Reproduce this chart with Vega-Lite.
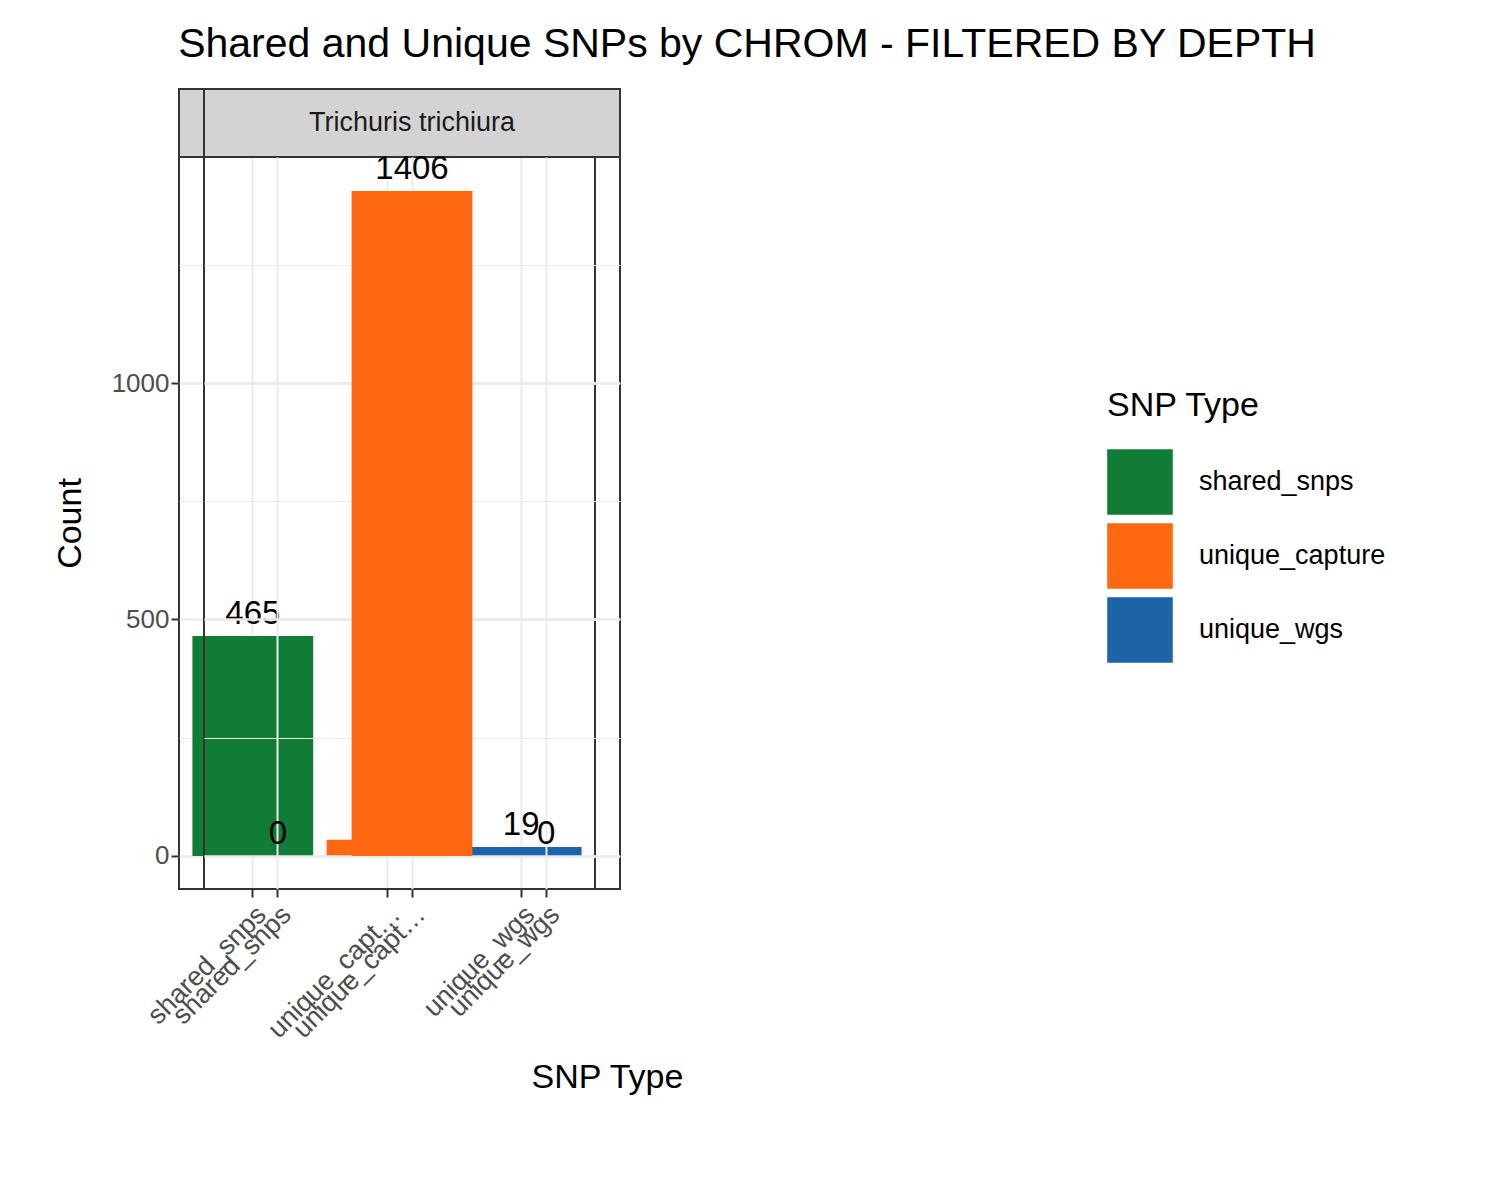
{
  "$schema": "https://vega.github.io/schema/vega-lite/v6.json",
  "title": {"text": "Shared and Unique SNPs by CHROM - FILTERED BY DEPTH", "anchor": "start", "dx": 126, "fontSize": 41, "font": "Liberation Sans", "fontWeight": "normal", "color": "black", "offset": 22},
  "padding": {"left": 52, "top": 24, "right": 0, "bottom": 10},
  "bounds": "flush",
  "datasets": {
    "snps": [
      {"species": "Ascaris lumbricoides", "type": "shared_snps", "count": 465},
      {"species": "Ascaris lumbricoides", "type": "unique_capture", "count": 34},
      {"species": "Ascaris lumbricoides", "type": "unique_wgs", "count": 19},
      {"species": "Trichuris trichiura", "type": "shared_snps", "count": 0},
      {"species": "Trichuris trichiura", "type": "unique_capture", "count": 1406},
      {"species": "Trichuris trichiura", "type": "unique_wgs", "count": 0}
    ]
  },
  "hconcat": [
    {
      "spacing": 0,
      "bounds": "flush",
      "vconcat": [
        {
          "width": 416, "height": 68,
          "data": {"values": [{"label": "Ascaris lumbricoides"}]},
          "view": {"fill": "#d3d3d3", "stroke": "#333333", "strokeWidth": 2},
          "mark": {"type": "text", "fontSize": 27, "font": "Liberation Sans", "color": "#1a1a1a"},
          "encoding": {"text": {"field": "label"}}
        },
        {
          "width": 416, "height": 732,
          "data": {"name": "snps"},
          "transform": [{"filter": "datum.species == 'Ascaris lumbricoides'"}],
          "encoding": {
            "x": {"field": "type", "type": "nominal", "scale": {"paddingInner": 0.1, "paddingOuter": 0.1},
              "axis": {"title": "SNP Type", "titleX": 428, "titleFontSize": 34, "titleFontWeight": "normal", "titleColor": "black", "titlePadding": 18, "labelAngle": -45, "labelFontSize": 27, "labelColor": "#4d4d4d", "grid": true, "gridColor": "#ebebeb", "gridWidth": 2, "tickColor": "#333", "tickWidth": 2, "tickSize": 8, "domain": false, "labelPadding": 4}},
            "y": {"field": "count", "type": "quantitative", "scale": {"domain": [-70, 1478], "nice": false},
              "axis": {"title": "Count", "titleFontSize": 34, "titleFontWeight": "normal", "titleColor": "black", "titlePadding": 24, "values": [0, 250, 500, 750, 1000, 1250], "labelExpr": "datum.value % 500 === 0 ? datum.label : ''", "labelFontSize": 26, "labelColor": "#4d4d4d", "gridColor": "#ebebeb", "gridWidth": {"condition": {"test": "datum.value % 500 === 0", "value": 2.5}, "value": 1.2}, "tickColor": {"condition": {"test": "datum.value % 500 === 0", "value": "#333"}, "value": "transparent"}, "tickWidth": 2, "tickSize": 8, "domain": false, "format": "d"}}
          },
          "layer": [
            {"mark": {"type": "bar"}, "encoding": {"color": {"field": "type", "type": "nominal", "scale": {"domain": ["shared_snps", "unique_capture", "unique_wgs"], "range": ["#117c36", "#fd6811", "#1c63a8"]}, "legend": {"title": "SNP Type"}}}},
            {"mark": {"type": "text", "dy": -22, "fontSize": 33, "font": "Liberation Sans", "color": "black"}, "encoding": {"text": {"field": "count"}}}
          ]
        }
      ]
    },
    {
      "spacing": 0,
      "bounds": "flush",
      "vconcat": [
        {
          "width": 416, "height": 68,
          "data": {"values": [{"label": "Trichuris trichiura"}]},
          "view": {"fill": "#d3d3d3", "stroke": "#333333", "strokeWidth": 2},
          "mark": {"type": "text", "fontSize": 27, "font": "Liberation Sans", "color": "#1a1a1a"},
          "encoding": {"text": {"field": "label"}}
        },
        {
          "width": 416, "height": 732,
          "data": {"name": "snps"},
          "transform": [{"filter": "datum.species == 'Trichuris trichiura'"}],
          "encoding": {
            "x": {"field": "type", "type": "nominal", "scale": {"paddingInner": 0.1, "paddingOuter": 0.1},
              "axis": {"title": null, "labelAngle": -45, "labelFontSize": 27, "labelColor": "#4d4d4d", "grid": true, "gridColor": "#ebebeb", "gridWidth": 2, "tickColor": "#333", "tickWidth": 2, "tickSize": 8, "domain": false, "labelPadding": 4}},
            "y": {"field": "count", "type": "quantitative", "scale": {"domain": [-70, 1478], "nice": false},
              "axis": {"title": null, "labels": false, "ticks": false, "minExtent": 0, "maxExtent": 0, "values": [0, 250, 500, 750, 1000, 1250], "gridColor": "#ebebeb", "gridWidth": {"condition": {"test": "datum.value % 500 === 0", "value": 2.5}, "value": 1.2}, "domain": false}}
          },
          "layer": [
            {"mark": {"type": "bar"}, "encoding": {"color": {"field": "type", "type": "nominal", "scale": {"domain": ["shared_snps", "unique_capture", "unique_wgs"], "range": ["#117c36", "#fd6811", "#1c63a8"]}, "legend": {"title": "SNP Type"}}}},
            {"mark": {"type": "text", "dy": -22, "fontSize": 33, "font": "Liberation Sans", "color": "black"}, "encoding": {"text": {"field": "count"}}}
          ]
        }
      ]
    }
  ],
  "spacing": 25,
  "resolve": {"scale": {"color": "shared"}},
  "config": {
    "font": "Liberation Sans",
    "view": {"stroke": "#333333", "strokeWidth": 2},
    "legend": {"titleFontSize": 34, "titleFontWeight": "normal", "titleColor": "black", "labelFontSize": 27, "labelColor": "black", "labelLimit": 400, "symbolType": "square", "symbolSize": 4300, "symbolStrokeWidth": 0, "symbolOpacity": 1, "rowPadding": 8, "labelOffset": 26, "titlePadding": 26, "orient": "none", "legendX": 928, "legendY": 300, "padding": 0}
  }
}
